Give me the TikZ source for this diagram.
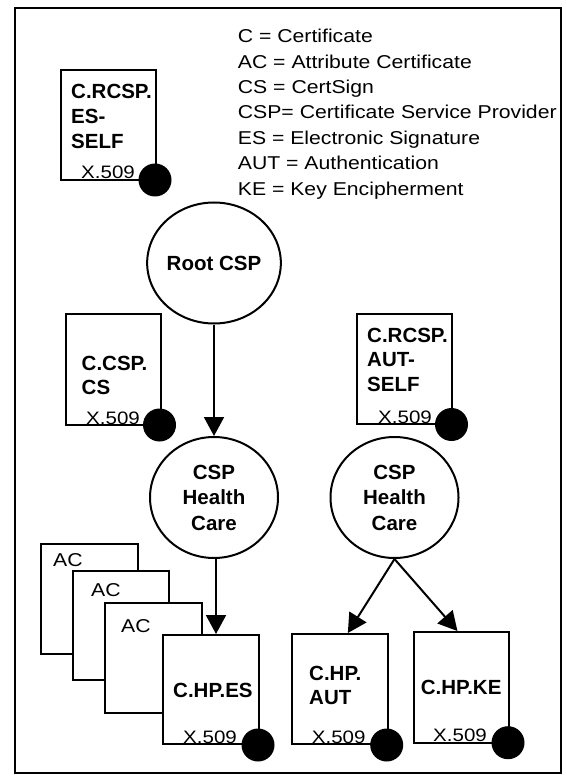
\documentclass[tikz,border=0pt]{standalone}
\usepackage{fontspec}
\setmainfont{Liberation Sans}
\newfontfamily\regf[FakeStretch=1.14]{Liberation Sans}
\usetikzlibrary{shapes.geometric,arrows.meta,calc}
\begin{document}
\begin{tikzpicture}[x=1pt,y=-1pt,
  certbox/.style={draw, line width=2pt, fill=white, anchor=north west, inner sep=0pt},
  lbl/.style={anchor=base west, inner sep=0pt, font=\fontsize{20.5}{24.8}\selectfont\bfseries},
  xlbl/.style={anchor=base west, inner sep=0pt, font=\regf\fontsize{18}{20}\selectfont},
  aclbl/.style={anchor=base west, inner sep=0pt, font=\regf\fontsize{18.6}{20}\selectfont},
  leg/.style={anchor=base west, inner sep=0pt, font=\regf\fontsize{18.6}{25.4}\selectfont},
  dot/.style={circle, fill=black, inner sep=0pt, minimum size=33pt},
  ring/.style={ellipse, draw, line width=2pt, fill=white, inner sep=0pt, minimum width=128pt, minimum height=121pt, align=center, font=\fontsize{20.5}{25.5}\selectfont\bfseries},
  arr/.style={line width=2pt, -{Triangle[length=19pt,width=20pt]}}]
\useasboundingbox (0,0) rectangle (565,775);
\node[draw, line width=2pt, anchor=north west, inner sep=0pt, minimum width=545.5pt, minimum height=765pt] (frame) at (14,7) {};

% legend
\node[leg] (legend) at (237.7,42.7) {\vtop{\hbox{C = Certificate}\hbox{AC = Attribute Certificate}\hbox{CS = CertSign}\hbox{CSP= Certificate Service Provider}\hbox{ES = Electronic Signature}\hbox{AUT = Authentication}\hbox{KE = Key Encipherment}}};

% C.RCSP.ES-SELF
\node[certbox, minimum width=95pt, minimum height=110pt] (b1) at (60,69) {};
\node[lbl] (b1t) at (71,99) {\vtop{\hbox{C.RCSP.}\hbox{ES-}\hbox{SELF}}};
\node[xlbl] (b1x) at (81,179) {X.509};
\node[dot] (b1d) at (155,180) {};

% Root CSP
\node[ring] (root) at (214,263) {Root CSP};

% C.CSP.CS
\node[certbox, minimum width=95pt, minimum height=111pt] (b2) at (64.5,313) {};
\node[lbl] (b2t) at (81.5,370) {\vtop{\hbox{C.CSP.}\hbox{CS}}};
\node[xlbl] (b2x) at (86,424) {X.509};
\node[dot] (b2d) at (159.5,425) {};

% C.RCSP.AUT-SELF
\node[certbox, minimum width=95pt, minimum height=110pt] (b3) at (356,313) {};
\node[lbl] (b3t) at (367,342) {\vtop{\hbox{C.RCSP.}\hbox{AUT-}\hbox{SELF}}};
\node[xlbl] (b3x) at (378,423) {X.509};
\node[dot] (b3d) at (451.5,424.5) {};

% CSP Health Care circles
\node[ring] (hcL) at (214,497.5) {CSP\\Health\\Care};
\node[ring] (hcR) at (394.5,497.5) {CSP\\Health\\Care};

% AC stack
\node[certbox, minimum width=97pt, minimum height=110pt] (ac1) at (40,543) {};
\node[aclbl] (ac1t) at (53,566) {AC};
\node[certbox, minimum width=96pt, minimum height=109pt] (ac2) at (72,570) {};
\node[aclbl] (ac2t) at (91,596) {AC};
\node[certbox, minimum width=96.7pt, minimum height=110pt] (ac3) at (104,602) {};
\node[aclbl] (ac3t) at (121,632) {AC};

% C.HP.ES
\node[certbox, minimum width=96pt, minimum height=109pt] (es) at (162,634) {};
\node[lbl] (est) at (173,697) {C.HP.ES};
\node[xlbl] (esx) at (183,743) {X.509};
\node[dot] (esd) at (258,745) {};

% C.HP.AUT
\node[certbox, minimum width=96pt, minimum height=110pt] (aut) at (290.7,633) {};
\node[lbl] (autt) at (309,680) {\vtop{\hbox{C.HP.}\hbox{AUT}}};
\node[xlbl] (autx) at (311.7,743) {X.509};
\node[dot] (autd) at (386.7,745) {};

% C.HP.KE
\node[certbox, minimum width=95.3pt, minimum height=110.7pt] (ke) at (412.7,631) {};
\node[lbl] (ket) at (420.7,694) {C.HP.KE};
\node[xlbl] (kex) at (433,741) {X.509};
\node[dot] (ked) at (508,742.7) {};

% arrows
\draw[arr] (root.south) -- (hcL.north);
\draw[arr] ([xshift=2pt]hcL.south) -- ([xshift=2pt]hcL.south |- es.north);
\draw[arr] (hcR.south) -- ($(aut.north west)!0.583!(aut.north east)$);
\draw[arr] (hcR.south) -- ($(ke.north west)!0.46!(ke.north east)$);
\end{tikzpicture}
\end{document}
